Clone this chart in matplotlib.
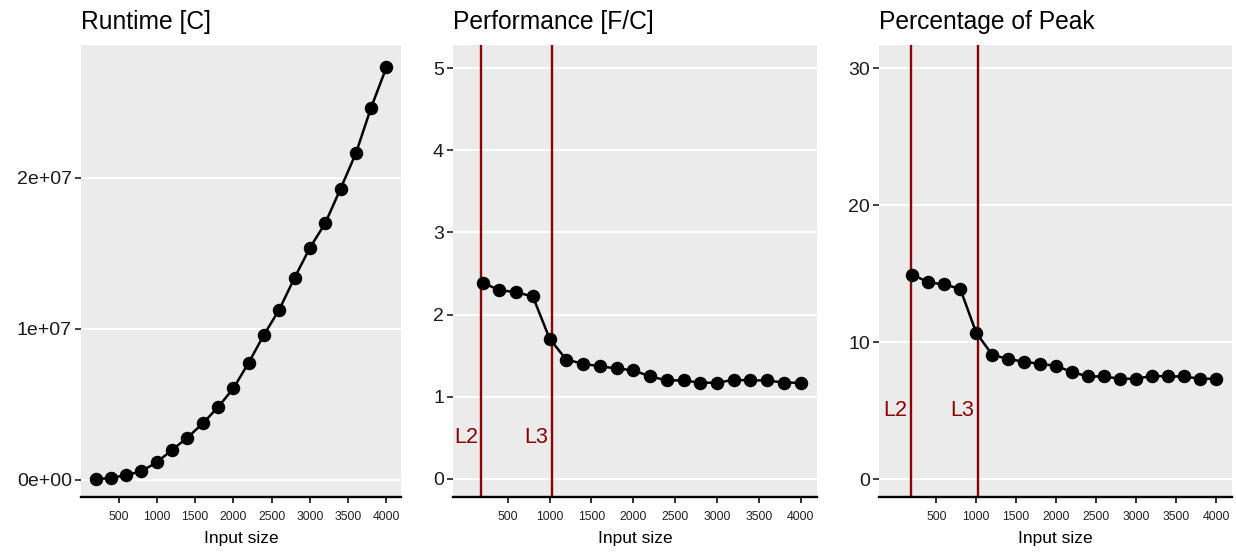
import matplotlib
matplotlib.use("Agg")
import matplotlib.pyplot as plt

# ---- data ----
input_size = [200, 400, 600, 800, 1000, 1200, 1400, 1600, 1800, 2000,
              2200, 2400, 2600, 2800, 3000, 3200, 3400, 3600, 3800, 4000]
runtime = [3.35e4, 1.39e5, 3.17e5, 5.77e5, 1.17e6, 1.99e6, 2.80e6, 3.74e6,
           4.82e6, 6.06e6, 7.76e6, 9.61e6, 1.128e7, 1.339e7, 1.537e7,
           1.700e7, 1.928e7, 2.162e7, 2.466e7, 2.733e7]
performance = [2.387, 2.297, 2.272, 2.220, 1.707, 1.451, 1.402, 1.370, 1.345,
               1.321, 1.248, 1.199, 1.199, 1.171, 1.171, 1.205, 1.199, 1.199,
               1.171, 1.171]
pct_peak = [14.92, 14.36, 14.20, 13.88, 10.67, 9.07, 8.76, 8.56, 8.41, 8.26,
            7.80, 7.49, 7.49, 7.32, 7.32, 7.53, 7.49, 7.49, 7.32, 7.32]
cache_names = ["L2", "L3"]
cache_sizes = [181, 1024]

titles = ["Runtime [C]", "Performance [F/C]", "Percentage of Peak"]
x_ticks = [500, 1000, 1500, 2000, 2500, 3000, 3500, 4000]
y_ticks_rt = [0, 1e7, 2e7]
y_labels_rt = ["0e+00", "1e+07", "2e+07"]
y_ticks_perf = [0, 1, 2, 3, 4, 5]
y_ticks_pct = [0, 10, 20, 30]

plt.rcParams['font.family'] = ['Liberation Sans', 'DejaVu Sans']

fig = plt.figure(figsize=(12.36, 5.52), dpi=100)
W, H = 1236, 552
def mk(left, right, top=45, bottom=497):
    return fig.add_axes([left / W, (H - bottom) / H, (right - left) / W, (bottom - top) / H])

ax1 = mk(81, 401)
ax2 = mk(453, 817)
ax3 = mk(879, 1232)

BG = "#EBEBEB"
RED = "#8B0000"

def style(ax, title):
    ax.set_facecolor(BG)
    for s in ["top", "right", "left"]:
        ax.spines[s].set_visible(False)
    ax.spines["bottom"].set_color("black")
    ax.spines["bottom"].set_linewidth(1.7)
    ax.grid(axis="y", color="white", linewidth=1.5)
    ax.grid(axis="x", visible=False)
    ax.set_axisbelow(True)
    ax.set_xticks(x_ticks)
    ax.tick_params(axis="x", length=4, width=1.3, color="#222222", labelsize=8.8,
                   pad=6, labelcolor="#222222")
    ax.tick_params(axis="y", length=4, width=1.3, color="#333333", labelsize=14,
                   pad=2.5, labelcolor="#1A1A1A")
    ax.set_title(title, loc="left", fontsize=17.7, pad=11.5)
    ax.set_xlabel("Input size", fontsize=12.5, labelpad=6)

# panel 1
style(ax1, titles[0])
ax1.plot(input_size, runtime, color="black", linewidth=1.8, marker="o",
         markersize=8.7, zorder=3)
ax1.set_xlim(10, 4190)
ax1.set_ylim(-1.13e6, 2.88e7)
ax1.set_yticks(y_ticks_rt)
ax1.set_yticklabels(y_labels_rt)

# panel 2
style(ax2, titles[1])
for name, c in zip(cache_names, cache_sizes):
    ax2.axvline(c, color=RED, linewidth=1.7, zorder=2)
    ax2.text(c - 36, 0.5, name, color=RED, fontsize=15.5, ha="right", va="center")
ax2.plot(input_size, performance, color="black", linewidth=1.8, marker="o",
         markersize=8.7, zorder=3)
ax2.set_xlim(-154, 4195)
ax2.set_ylim(-0.22, 5.28)
ax2.set_yticks(y_ticks_perf)

# panel 3
style(ax3, titles[2])
for name, c in zip(cache_names, cache_sizes):
    ax3.axvline(c, color=RED, linewidth=1.7, zorder=2)
    ax3.text(c - 50, 5, name, color=RED, fontsize=15.5, ha="right", va="center")
ax3.plot(input_size, pct_peak, color="black", linewidth=1.8, marker="o",
         markersize=8.7, zorder=3)
ax3.set_xlim(-217, 4200)
ax3.set_ylim(-1.31, 31.68)
ax3.set_yticks(y_ticks_pct)

fig.savefig("out.png", dpi=100, facecolor="white")
